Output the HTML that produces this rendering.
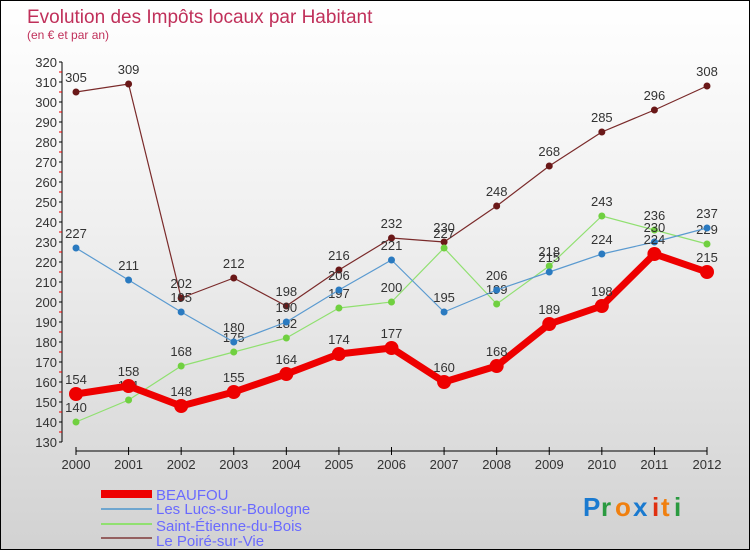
<!DOCTYPE html>
<html><head><meta charset="utf-8"><style>
body{margin:0;}
#wrap{position:relative;width:748px;height:548px;border:1px solid #000;background:linear-gradient(#fff 0%,#f0f0f0 40%,#d2d2d2 100%);font-family:"Liberation Sans",sans-serif;overflow:hidden;}
</style></head><body>
<div id="wrap">
<svg id="svg" width="748" height="548">
<text x="26" y="22" font-size="19" fill="#c0305a">Evolution des Impôts locaux par Habitant</text>
<text x="26" y="38" font-size="12" fill="#c0305a">(en € et par an)</text>
<g id="axes"></g><g id="series"></g>
<g>
<rect x="100" y="489" width="51" height="8" fill="#e00"/>
<text x="155" y="499" font-size="15" fill="#6a6aff">BEAUFOU</text>
<line x1="100" y1="508" x2="151" y2="508" stroke="#6fa6cf" stroke-width="2"/>
<text x="155" y="513" font-size="15" fill="#6a6aff">Les Lucs-sur-Boulogne</text>
<line x1="100" y1="523" x2="151" y2="523" stroke="#90e070" stroke-width="2"/>
<text x="155" y="530" font-size="15" fill="#6a6aff">Saint-Étienne-du-Bois</text>
<line x1="100" y1="537" x2="151" y2="537" stroke="#946060" stroke-width="2"/>
<text x="155" y="545" font-size="15" fill="#6a6aff">Le Poiré-sur-Vie</text>
</g>
<g font-size="26" font-weight="bold">
<text x="582" y="515" fill="#1a7ad0">P</text><text x="600" y="515" fill="#2a9a40">r</text><text x="614" y="515" fill="#f08010">o</text><text x="632" y="515" fill="#1a7ad0">x</text><text x="651" y="515" fill="#e03010">i</text><text x="660" y="515" fill="#f08010">t</text><text x="673" y="515" fill="#2a9a40">i</text>
</g>
</svg>
</div>
<script>
const years=["2000","2001","2002","2003","2004","2005","2006","2007","2008","2009","2010","2011","2012"];
const yTicks=[130,140,150,160,170,180,190,200,210,220,230,240,250,260,270,280,290,300,310,320];
const beaufou=[154,158,148,155,164,174,177,160,168,189,198,224,215];
const lucs=[227,211,195,180,190,206,221,195,206,215,224,230,237];
const etienne=[140,151,168,175,182,197,200,227,199,218,243,236,229];
const poire=[305,309,202,212,198,216,232,230,248,268,285,296,308];
const NS="http://www.w3.org/2000/svg";
function X(i){return 75+i*(706-75)/(years.length-1);}
function Y(v){return 61+(320-v)*2;}
function mk(tag,attrs,parent,txt){const e=document.createElementNS(NS,tag);for(const k in attrs)e.setAttribute(k,attrs[k]);if(txt!=null)e.textContent=txt;parent.appendChild(e);return e;}
const ax=document.getElementById('axes');
let yl=mk('line',{x1:61,y1:Y(320),x2:61,y2:Y(130),stroke:'#000'},ax);


yTicks.forEach(v=>{
 mk('line',{x1:58,y1:Y(v),x2:61,y2:Y(v),stroke:'#000'},ax);
 if(v<320)mk('line',{x1:58,y1:Y(v+5),x2:61,y2:Y(v+5),stroke:'#e00'},ax);
 let t=mk('text',{x:56,y:Y(v)+5,'font-size':13,fill:'#333','text-anchor':'end'},ax,v);
 
 
});
let xl=mk('line',{x1:75,y1:450,x2:706,y2:450,stroke:'#000'},ax);


years.forEach((y,i)=>{
 mk('line',{x1:X(i),y1:446,x2:X(i),y2:454,stroke:'#000'},ax);
 let t=mk('text',{x:X(i),y:468,'font-size':13,fill:'#333','text-anchor':'middle'},ax,y);
 
 
});
const sg=document.getElementById('series');
function series(data,name,color,w,r,dot){
 const g=mk('g',{},sg);
 
 
 mk('polyline',{points:data.map((v,i)=>X(i)+','+Y(v)).join(' '),fill:'none',stroke:color,'stroke-width':w,'stroke-linejoin':'round'},g);
 data.forEach((v,i)=>{
  const c=mk('circle',{cx:X(i),cy:Y(v),r:r,fill:dot},g);
  
  
  const t=mk('text',{x:X(i),y:Y(v)-10,'font-size':13,fill:'#333','text-anchor':'middle'},g,v);
  
  
 });
}
series(poire,'poire','#7a2a2a',1.2,3.5,'#6a1818');
series(etienne,'saint-etienne','#90e070',1.2,3.5,'#70d040');
series(lucs,'lucs','#5a9ad0',1.2,3.5,'#2a7ac0');
series(beaufou,'beaufou','#ee0000',7,7,'#ee0000');
</script>
</body></html>
